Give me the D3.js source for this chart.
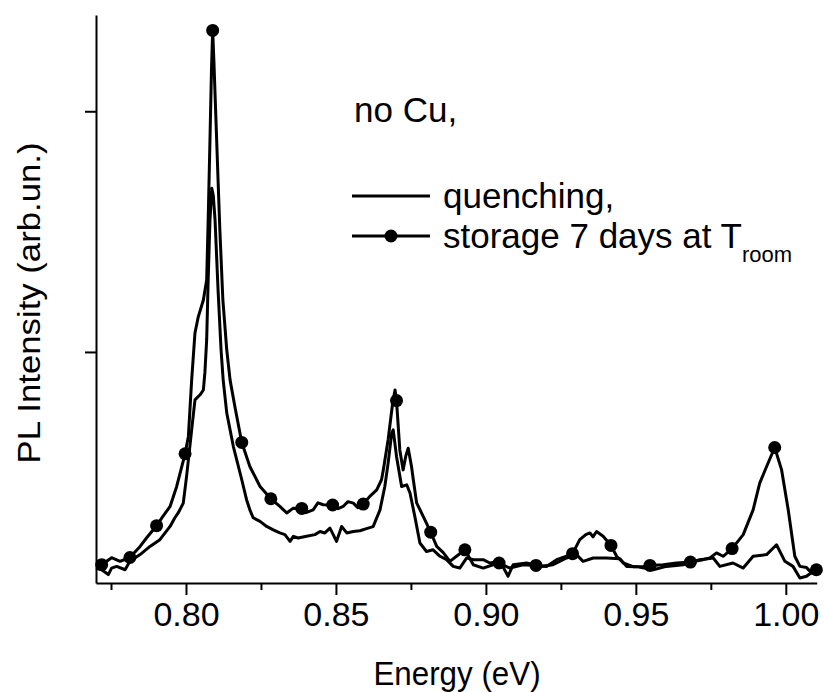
<!DOCTYPE html>
<html>
<head>
<meta charset="utf-8">
<script src="https://cdn.jsdelivr.net/npm/d3@7"></script>
<style>
  body { margin: 0; background: #fff; }
  text { font-family: "Liberation Sans", Arial, sans-serif; fill: #000; }
</style>
</head>
<body>
<div id="chart"></div>
<script>
// PL spectra, no Cu: quenching vs storage 7 days at room temperature

// energy (eV) and PL intensity (arb. units) for the quenched sample
const quenchE = [0.7700, 0.7719, 0.7741, 0.7752, 0.7769, 0.7797, 0.7813, 0.7847, 0.7880, 0.7913,
    0.7947, 0.7963, 0.7974, 0.7991, 0.8002, 0.8019, 0.8030, 0.8047, 0.8058, 0.8063,
    0.8069, 0.8074, 0.8080, 0.8086, 0.8091, 0.8097, 0.8107, 0.8117, 0.8124, 0.8136,
    0.8158, 0.8186, 0.8202, 0.8213, 0.8224, 0.8247, 0.8269, 0.8291, 0.8313, 0.8330,
    0.8347, 0.8358, 0.8374, 0.8402, 0.8430, 0.8447, 0.8463, 0.8480, 0.8491, 0.8502,
    0.8519, 0.8536, 0.8558, 0.8580, 0.8602, 0.8624, 0.8647, 0.8663, 0.8674, 0.8686,
    0.8691, 0.8702, 0.8719, 0.8736, 0.8747, 0.8763, 0.8780, 0.8802, 0.8824, 0.8847,
    0.8869, 0.8891, 0.8913, 0.8936, 0.8958, 0.8991, 0.9013, 0.9047, 0.9074, 0.9091,
    0.9136, 0.9180, 0.9224, 0.9269, 0.9302, 0.9324, 0.9358, 0.9402, 0.9447, 0.9469,
    0.9502, 0.9558, 0.9602, 0.9658, 0.9713, 0.9758, 0.9780, 0.9824, 0.9858, 0.9891,
    0.9936, 0.9969, 0.9997, 1.0024, 1.0047, 1.0069, 1.0091, 1.0102];
const quenchI = [10.2, 9.5, 7.5, 10.2, 10.9, 9.5, 13.0, 15.8, 19.2, 22.0,
    27.5, 31.1, 33.1, 37.2, 48.3, 67.6, 80.1, 82.2, 84.2, 91.3,
    105.0, 129.9, 154.8, 168.0, 165.1, 154.8, 125.7, 100.8, 88.4, 74.6,
    60.7, 46.9, 38.6, 34.4, 31.1, 29.6, 27.5, 26.1, 24.8, 24.1,
    21.3, 23.4, 22.7, 23.4, 24.1, 25.4, 24.8, 26.8, 24.1, 21.3,
    27.5, 24.8, 25.4, 25.7, 26.6, 27.4, 34.4, 44.1, 53.8, 66.3,
    67.6, 56.6, 44.1, 44.8, 41.4, 31.7, 20.6, 17.1, 17.8, 15.1,
    13.7, 10.9, 10.2, 14.4, 13.7, 13.7, 12.3, 13.0, 6.8, 11.6,
    12.3, 10.9, 11.6, 14.4, 15.8, 13.0, 14.4, 14.4, 14.1, 10.9,
    10.8, 9.5, 10.9, 11.6, 13.7, 14.4, 10.9, 12.3, 10.2, 15.1,
    15.8, 19.9, 13.0, 10.9, 6.1, 6.8, 8.8, 8.7];

// same, after storage for 7 days at room temperature
const storageE = [0.7700, 0.7719, 0.7752, 0.7780, 0.7813, 0.7847, 0.7869, 0.7902, 0.7923, 0.7947,
    0.7969, 0.7997, 0.8008, 0.8019, 0.8030, 0.8041, 0.8058, 0.8069, 0.8074, 0.8080,
    0.8085, 0.8089, 0.8093, 0.8100, 0.8107, 0.8113, 0.8123, 0.8136, 0.8147, 0.8163,
    0.8186, 0.8213, 0.8247, 0.8283, 0.8313, 0.8336, 0.8358, 0.8386, 0.8400, 0.8424,
    0.8440, 0.8458, 0.8489, 0.8507, 0.8524, 0.8540, 0.8558, 0.8573, 0.8591, 0.8613,
    0.8636, 0.8652, 0.8658, 0.8674, 0.8689, 0.8697, 0.8702, 0.8713, 0.8724, 0.8733,
    0.8741, 0.8752, 0.8758, 0.8769, 0.8791, 0.8816, 0.8836, 0.8858, 0.8880, 0.8902,
    0.8930, 0.8958, 0.8991, 0.9024, 0.9044, 0.9080, 0.9124, 0.9167, 0.9202, 0.9236,
    0.9269, 0.9289, 0.9313, 0.9333, 0.9347, 0.9357, 0.9369, 0.9391, 0.9417, 0.9436,
    0.9458, 0.9491, 0.9524, 0.9547, 0.9591, 0.9636, 0.9682, 0.9724, 0.9747, 0.9769,
    0.9791, 0.9821, 0.9858, 0.9891, 0.9913, 0.9936, 0.9963, 0.9986, 1.0008, 1.0030,
    1.0047, 1.0069, 1.0086, 1.0102];
const storageI = [12.4, 11.6, 14.5, 13.0, 14.6, 19.2, 22.8, 27.8, 31.7, 35.8,
    44.1, 57.7, 64.9, 88.4, 107.9, 114.6, 121.6, 129.9, 154.8, 188.0,
    217.0, 233.6, 221.2, 196.3, 171.4, 150.6, 121.6, 100.8, 88.4, 77.3,
    62.4, 52.4, 44.1, 39.0, 35.8, 33.1, 35.1, 35.0, 33.2, 34.4,
    37.3, 36.5, 36.4, 34.9, 35.8, 37.8, 37.2, 35.3, 36.8, 40.0,
    42.7, 46.9, 51.0, 63.5, 78.7, 84.2, 79.8, 59.3, 51.0, 56.8,
    60.0, 52.4, 46.9, 37.3, 31.7, 25.1, 19.2, 16.6, 13.0, 15.1,
    17.8, 11.6, 10.2, 11.6, 12.3, 10.2, 11.6, 11.3, 10.9, 13.7,
    15.1, 16.2, 22.0, 24.1, 24.8, 23.2, 25.4, 23.4, 19.6, 15.1,
    12.3, 10.8, 10.9, 11.3, 11.6, 12.3, 12.7, 13.7, 14.4, 16.5,
    15.1, 18.3, 24.1, 34.4, 45.5, 52.4, 60.3, 51.0, 34.4, 15.1,
    10.9, 10.4, 8.2, 9.5];

// symbols on the storage curve
const markerE = [0.7719, 0.7813, 0.7902, 0.7997, 0.8089, 0.8186, 0.8283, 0.8386, 0.8489, 0.8591,
    0.8702, 0.8816, 0.8930, 0.9044, 0.9167, 0.9289, 0.9417, 0.9547, 0.9682, 0.9821,
    0.9963, 1.0102];
const markerI = [11.6, 14.6, 27.8, 57.7, 233.6, 62.4, 39.0, 35.0, 36.4, 36.8,
    79.8, 25.1, 17.8, 12.3, 11.3, 16.2, 19.6, 11.3, 12.7, 18.3,
    60.3, 9.5];

const xTicks = [0.80, 0.85, 0.90, 0.95, 1.00];
const xMinorTicks = [0.775, 0.825, 0.875, 0.925, 0.975];
const yTicks = [100, 200];

const W = 824, H = 692;
const margin = { top: 15, right: 7.3, bottom: 109, left: 96 };
const squeeze = 0.95; // axis titles are slightly narrow

const svg = d3.select("#chart").append("svg")
    .attr("width", W)
    .attr("height", H);

const x = d3.scaleLinear()
    .domain([0.77, 1.0103])
    .range([margin.left, W - margin.right]);

const y = d3.scaleLinear()
    .domain([4, 240])
    .range([H - margin.bottom, margin.top]);

// x axis: major ticks with labels, minor ticks without
const xAxis = svg.append("g")
    .attr("transform", `translate(0,${H - margin.bottom})`)
    .call(d3.axisBottom(x).tickValues(xTicks).tickFormat(d3.format(".2f")).tickSize(12).tickSizeOuter(0).tickPadding(7));

svg.append("g")
    .attr("transform", `translate(0,${H - margin.bottom})`)
    .call(d3.axisBottom(x).tickValues(xMinorTicks).tickFormat("").tickSize(7).tickSizeOuter(0))
    .select(".domain").remove();

svg.append("g")
    .attr("transform", `translate(${margin.left},0)`)
    .call(d3.axisLeft(y).tickValues(yTicks).tickFormat("").tickSize(11).tickSizeOuter(0));

svg.selectAll(".domain, .tick line")
    .attr("stroke", "#000")
    .attr("stroke-width", 2);

xAxis.selectAll(".tick text")
    .style("font-size", "34px")
    .attr("fill", "#000");

// axis titles
svg.append("text")
    .attr("text-anchor", "middle")
    .attr("transform", `translate(457,685) scale(${squeeze},1)`)
    .style("font-size", "33px")
    .text("Energy (eV)");

svg.append("text")
    .attr("text-anchor", "middle")
    .attr("transform", "translate(40,303) rotate(-90) scale(1.12,1)")
    .style("font-size", "31px")
    .text("PL Intensity (arb.un.)");

// curves
const line = d3.line()
    .x(d => x(d[0]))
    .y(d => y(d[1]));

const quench = quenchE.map((e, i) => [e, quenchI[i]]);
const storage = storageE.map((e, i) => [e, storageI[i]]);
const markers = markerE.map((e, i) => [e, markerI[i]]);

svg.append("path")
    .datum(quench)
    .attr("fill", "none")
    .attr("stroke", "#000")
    .attr("stroke-width", 3)
    .attr("stroke-linejoin", "round")
    .attr("d", line);

svg.append("path")
    .datum(storage)
    .attr("fill", "none")
    .attr("stroke", "#000")
    .attr("stroke-width", 3)
    .attr("stroke-linejoin", "round")
    .attr("d", line);

svg.selectAll(".marker")
    .data(markers)
    .enter()
    .append("circle")
    .attr("class", "marker")
    .attr("cx", d => x(d[0]))
    .attr("cy", d => y(d[1]))
    .attr("r", 6.5)
    .attr("fill", "#000");

// legend
svg.append("text")
    .attr("x", 354)
    .attr("y", 122)
    .style("font-size", "35px")
    .text("no Cu,");

const legend = svg.append("g");

legend.append("line")
    .attr("x1", 352).attr("x2", 430)
    .attr("y1", 196).attr("y2", 196)
    .attr("stroke", "#000").attr("stroke-width", 3);

legend.append("text")
    .attr("x", 443)
    .attr("y", 208)
    .style("font-size", "35px")
    .text("quenching,");

legend.append("line")
    .attr("x1", 352).attr("x2", 430)
    .attr("y1", 236).attr("y2", 236)
    .attr("stroke", "#000").attr("stroke-width", 3);

legend.append("circle")
    .attr("cx", 391).attr("cy", 236)
    .attr("r", 6.5)
    .attr("fill", "#000");

const storageLabel = legend.append("text")
    .attr("x", 443)
    .attr("y", 248)
    .style("font-size", "35px")
    .text("storage 7 days at T");

storageLabel.append("tspan")
    .attr("dy", 14)
    .style("font-size", "22px")
    .text("room");
</script>
</body>
</html>
